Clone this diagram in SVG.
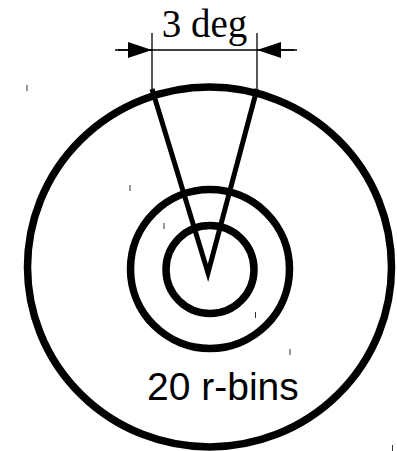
<svg xmlns="http://www.w3.org/2000/svg" width="397" height="451" viewBox="0 0 397 451">
<style>
.ring{fill:none;stroke:#000;stroke-width:7.5}
.ray{stroke:#000;stroke-width:5;stroke-linecap:butt}
.thin{stroke:#000;stroke-width:1.3;fill:none}
.tick{stroke:#333;stroke-width:1}
.serif{font-family:"Liberation Serif","Times New Roman",serif;font-size:39px;fill:#000}
.sans{font-family:"Liberation Sans",Arial,sans-serif;font-size:39px;fill:#000}
</style>
<defs>
<marker id="arr" viewBox="0 0 24 16" refX="24" refY="8" markerWidth="24" markerHeight="16" markerUnits="userSpaceOnUse" orient="auto">
<path d="M0,0 L24,8 L0,16 Z" fill="#000"/>
</marker>
</defs>
<g id="outer-ring"><ellipse class="ring" cx="209.5" cy="267" rx="182" ry="180"/></g>
<g id="middle-ring"><circle class="ring" cx="210" cy="269" r="79.5"/></g>
<g id="inner-ring"><circle class="ring" cx="210" cy="269.5" r="44"/></g>
<g id="sector">
<polyline class="ray" fill="none" points="152,89 208,273 257,89" stroke-linejoin="miter"/>
</g>
<g id="connectors">
<line class="thin" x1="152" y1="33" x2="152" y2="89"/>
<line class="thin" x1="257" y1="33" x2="257" y2="89"/>
<line class="thin" x1="115" y1="50" x2="297" y2="50"/>
<line class="thin" x1="118" y1="50" x2="152" y2="50" marker-end="url(#arr)"/>
<line class="thin" x1="294" y1="50" x2="257" y2="50" marker-end="url(#arr)"/>
</g>
<g id="label-deg"><text class="serif" x="204.5" y="37" text-anchor="middle">3 deg</text></g>
<g id="label-rbins"><text class="sans" x="147" y="400">20 r-bins</text></g>
<g id="ticks">
<line class="tick" x1="27" y1="85" x2="27" y2="91"/>
<line class="tick" x1="130" y1="185" x2="130" y2="191"/>
<line class="tick" x1="164" y1="223" x2="164" y2="229"/>
<line class="tick" x1="255.5" y1="312" x2="255.5" y2="318"/>
<line class="tick" x1="290" y1="349" x2="290" y2="355"/>
<line class="tick" x1="392.5" y1="445" x2="392.5" y2="451"/>
</g>
</svg>
